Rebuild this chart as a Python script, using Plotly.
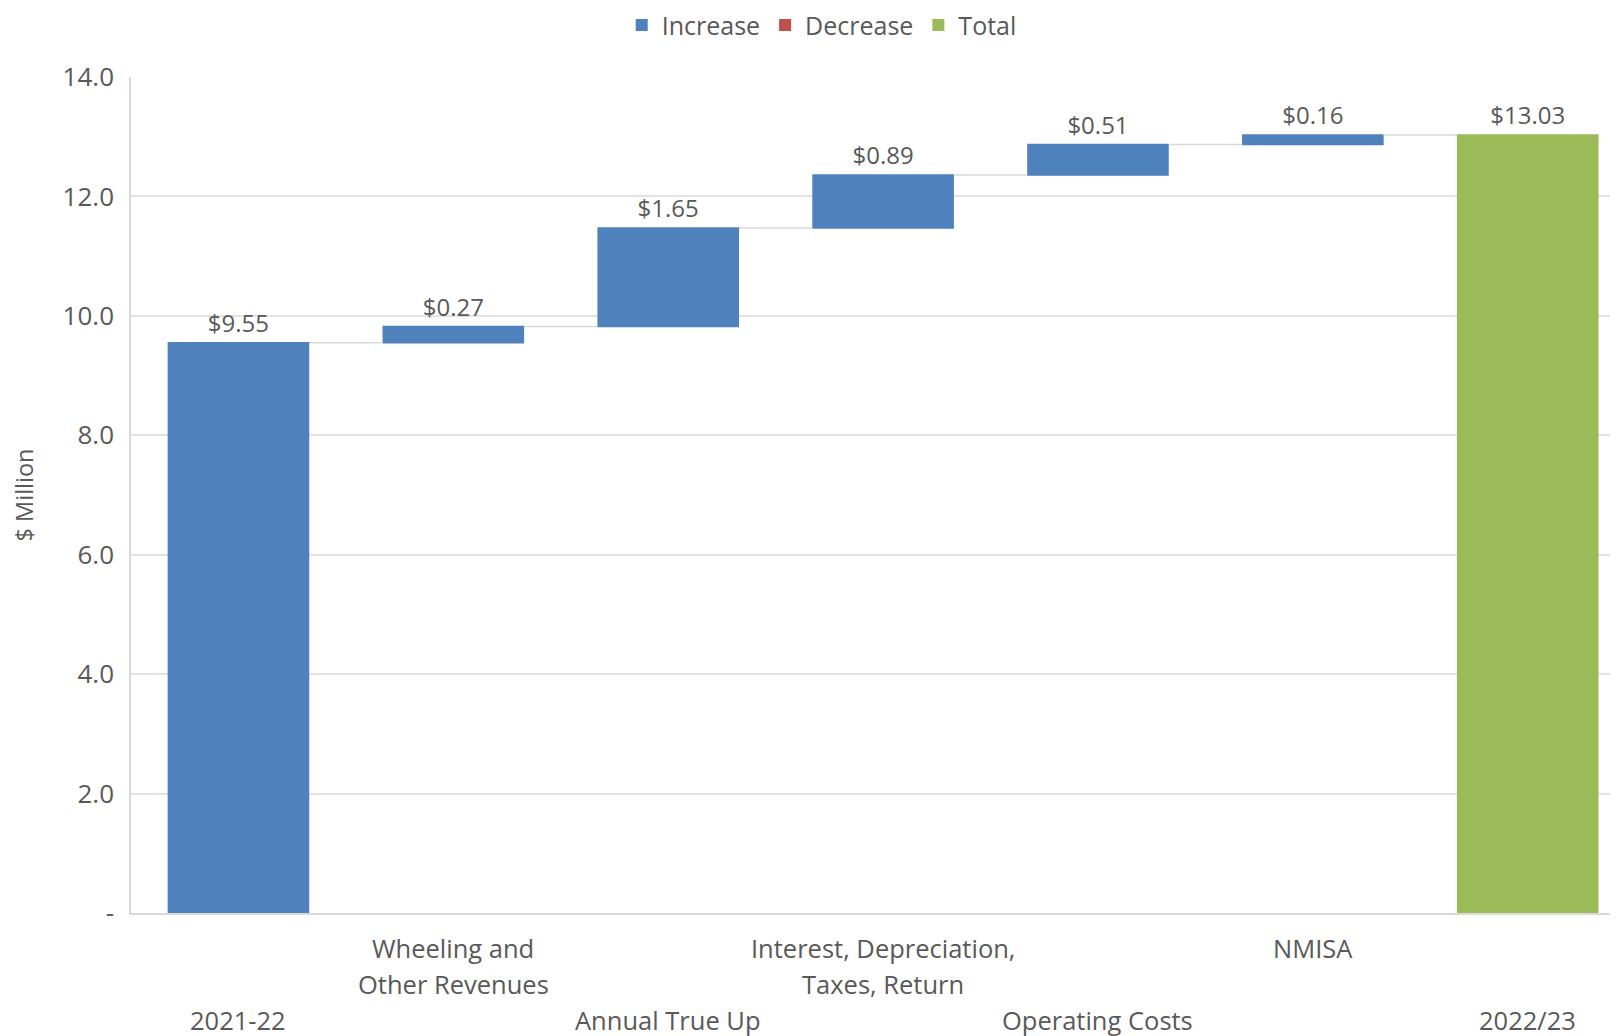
import plotly.graph_objects as go

categories = ["2021-22", "Wheeling and Other Revenues", "Annual True Up",
              "Interest, Depreciation, Taxes, Return", "Operating Costs", "NMISA", "2022/23"]
label_lines = [["2021-22"], ["Wheeling and", "Other Revenues"], ["Annual True Up"],
               ["Interest, Depreciation,", "Taxes, Return"], ["Operating Costs"], ["NMISA"], ["2022/23"]]
label_rows = [3, 1, 3, 1, 3, 1, 3]  # staggered starting row
values = [9.55, 0.27, 1.65, 0.89, 0.51, 0.16, 13.03]
measures = ["relative", "relative", "relative", "relative", "relative", "relative", "total"]
y_ticks = [0, 2, 4, 6, 8, 10, 12, 14]
y_ticklabels = ["-", "2.0", "4.0", "6.0", "8.0", "10.0", "12.0", "14.0"]

BLUE = "#4F81BD"
RED = "#C0504D"
GREEN = "#9BBB59"
TXT = "#595959"
FONT = "Open Sans"

fig = go.Figure()
fig.add_trace(go.Waterfall(
    x=categories,
    y=[v if m != "total" else 0 for v, m in zip(values, measures)],
    measure=measures,
    text=[f"${v:.2f}" for v in values],
    textposition="outside",
    textfont=dict(family=FONT, size=24, color=TXT),
    increasing=dict(marker=dict(color=BLUE)),
    decreasing=dict(marker=dict(color=RED)),
    totals=dict(marker=dict(color=GREEN)),
    connector=dict(line=dict(color="#D9D9D9", width=1.5)),
    showlegend=False,
    cliponaxis=False,
))

for name, col in [("Increase", BLUE), ("Decrease", RED), ("Total", GREEN)]:
    fig.add_trace(go.Scatter(x=[None], y=[None], mode="markers", name=name,
                             marker=dict(symbol="square", size=15, color=col)))

row_y = {1: -0.0415, 2: -0.0845, 3: -0.128}
annotations = []
for cat, lines, r in zip(categories, label_lines, label_rows):
    for i, ln in enumerate(lines):
        annotations.append(dict(x=cat, xref="x", y=row_y[r + i], yref="paper",
                                text=ln, showarrow=False, yanchor="middle", xanchor="center",
                                font=dict(family=FONT, size=25.5, color=TXT)))

fig.update_layout(
    width=1610, height=1028,
    margin=dict(l=123, r=0, t=69, b=123, autoexpand=False),
    paper_bgcolor="white", plot_bgcolor="white",
    font=dict(family=FONT, color=TXT),
    waterfallgap=0.341,
    annotations=annotations,
    legend=dict(orientation="h", x=0.4645, xanchor="center", y=1.062, yanchor="middle",
                font=dict(family=FONT, size=25, color=TXT), itemsizing="constant"),
    xaxis=dict(type="category", range=[-0.5, 6.42], showticklabels=False, showgrid=False,
               showline=True, linecolor="#D9D9D9", linewidth=1.5, ticks="", zeroline=False),
    yaxis=dict(range=[0, 14], tickvals=y_ticks, ticktext=y_ticklabels,
               tickfont=dict(family=FONT, size=26, color=TXT),
               showgrid=True, gridcolor="#E3E3E3", gridwidth=1.5,
               showline=True, linecolor="#D9D9D9", linewidth=1.5, zeroline=False,
               ticks="", ticklabelstandoff=10,
               title=dict(text="$ Million", font=dict(family=FONT, size=23.5, color=TXT), standoff=28)),
)

fig.write_html("out.html")
